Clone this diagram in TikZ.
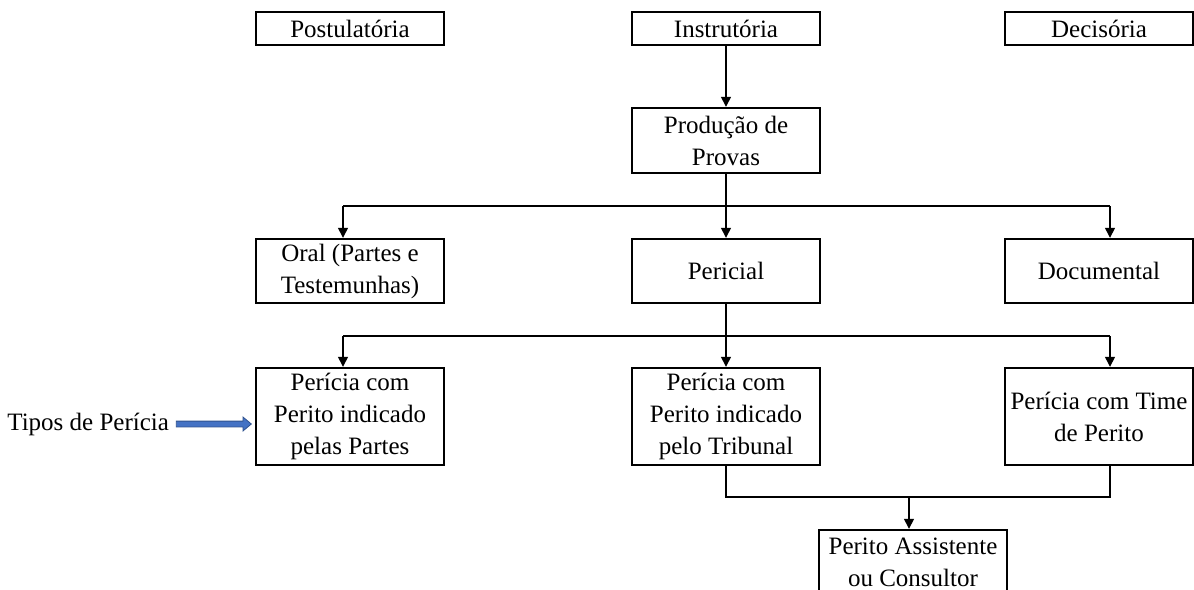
\documentclass[tikz,border=0pt]{standalone}
\usepackage{fontspec}
\setmainfont{Liberation Serif}
\usetikzlibrary{arrows.meta,shapes.arrows}
\definecolor{setaazul}{HTML}{4472C4}
\definecolor{bordaazul}{HTML}{2F528F}
\begin{document}
\begin{tikzpicture}[x=0.5pt,y=-0.5pt,
    caixa/.style={draw,line width=1.2pt,minimum width=94pt,inner sep=0pt,align=center,
      font=\fontsize{12.5}{16}\selectfont},
    linha/.style={line width=0.7pt},
    seta/.style={line width=0.7pt,-{Triangle[length=5pt,width=5pt]}},
    setagrossa/.style={single arrow,fill=setaazul,draw=bordaazul,line width=0.4pt,
      minimum height=37.5pt,minimum width=6.5pt,single arrow head extend=2pt,
      single arrow tip angle=80,inner sep=1.25pt}]
    \useasboundingbox (0,0) rectangle (1194,589);
    \clip (0,0) rectangle (1194,589);
    \node[caixa,minimum height=16.5pt] (post) at (350,28.5) {Postulatória};
    \node[caixa,minimum height=16.5pt] (instr) at (726,28.5) {Instrutória};
    \node[caixa,minimum height=16.5pt] (decis) at (1099,28.5) {Decisória};
    \node[caixa,minimum height=32.5pt] (prod) at (726,140.5) {Produção de\\Provas};
    \node[caixa,minimum height=32pt] (oral) at (350,271) {Oral (Partes e\\Testemunhas)};
    \node[caixa,minimum height=32pt] (peric) at (726,271) {Pericial};
    \node[caixa,minimum height=32pt] (doc) at (1099,271) {Documental};
    \node[caixa,minimum height=48.5pt] (partes) at (350,416.5) {Perícia com\\Perito indicado\\pelas Partes};
    \node[caixa,minimum height=48.5pt] (tribunal) at (726,416.5) {Perícia com\\Perito indicado\\pelo Tribunal};
    \node[caixa,minimum height=48.5pt] (time) at (1099,416.5) {Perícia com Time\\de Perito};
    \node[caixa,minimum height=32.5pt] (assist) at (913,562.5) {Perito Assistente\\ou Consultor};
    \node[anchor=west,inner sep=0pt,font=\fontsize{12.5}{16}\selectfont] (tipos) at (7,424) {Tipos de Perícia};
    \path (tipos.east) -- (partes.west |- tipos.east) node[midway,setagrossa] (azul) {};

    \coordinate (p1) at (726,206);
    \coordinate (p1e) at (343,206);
    \coordinate (p1d) at (1110,206);
    \coordinate (p2) at (726,336);
    \coordinate (p2e) at (343,336);
    \coordinate (p2d) at (1110,336);
    \coordinate (p3e) at (726,497);
    \coordinate (p3d) at (1110,497);
    \coordinate (p3m) at (909,497);

    \draw[seta] (instr) -- (prod);
    \draw[seta] (prod) -- (peric);
    \draw[linha] (p1e) -- (p1d);
    \draw[seta] (p1e) -- (p1e |- oral.north);
    \draw[seta] (p1d) -- (p1d |- doc.north);
    \draw[seta] (peric) -- (tribunal);
    \draw[linha] (p2e) -- (p2d);
    \draw[seta] (p2e) -- (p2e |- partes.north);
    \draw[seta] (p2d) -- (p2d |- time.north);
    \draw[linha] (tribunal) -- (p3e) -- (p3d) -- (p3d |- time.south);
    \draw[seta] (p3m) -- (p3m |- assist.north);
\end{tikzpicture}
\end{document}
